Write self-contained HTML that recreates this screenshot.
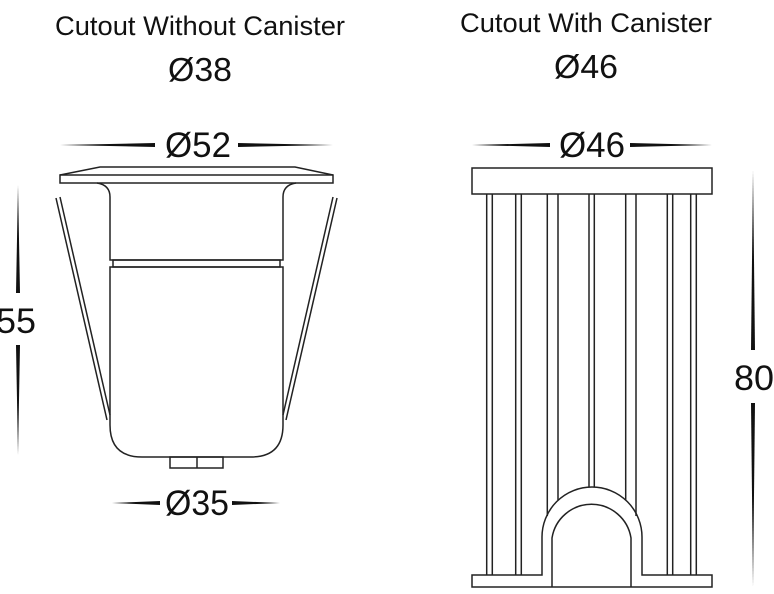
<!DOCTYPE html>
<html><head><style>
html,body{margin:0;padding:0;background:#fff;}
svg{display:block;}
text{font-family:"Liberation Sans",sans-serif;fill:#111;}
</style></head><body>
<svg width="774" height="594" viewBox="0 0 774 594" xmlns="http://www.w3.org/2000/svg">
<g>
<text x="200" y="35" font-size="27" text-anchor="middle" textLength="290" lengthAdjust="spacingAndGlyphs">Cutout Without Canister</text>
<text x="200" y="81" font-size="33" text-anchor="middle" textLength="64" lengthAdjust="spacingAndGlyphs">Ø38</text>
<text x="586" y="32" font-size="27" text-anchor="middle" textLength="252" lengthAdjust="spacingAndGlyphs">Cutout With Canister</text>
<text x="586" y="78" font-size="33" text-anchor="middle" textLength="64" lengthAdjust="spacingAndGlyphs">Ø46</text>

<text x="198" y="157" font-size="35" text-anchor="middle" textLength="66" lengthAdjust="spacingAndGlyphs">Ø52</text>
<text x="592" y="157" font-size="35" text-anchor="middle" textLength="66" lengthAdjust="spacingAndGlyphs">Ø46</text>
<text x="197" y="515" font-size="35" text-anchor="middle" textLength="64" lengthAdjust="spacingAndGlyphs">Ø35</text>
<text x="16" y="333" font-size="35" text-anchor="middle" textLength="40" lengthAdjust="spacingAndGlyphs">55</text>
<text x="754" y="390" font-size="35" text-anchor="middle" textLength="40" lengthAdjust="spacingAndGlyphs">80</text>
</g>

<g fill="#111">
<polygon points="60,145 155,143 155,147"/>
<polygon points="333,145 238,143 238,147"/>
<polygon points="472,145 550,143 550,147"/>
<polygon points="712,145 630,143 630,147"/>
<polygon points="112,503 160,501 160,505"/>
<polygon points="280,503 232,501 232,505"/>
<polygon points="18,185 16,293 20,293"/>
<polygon points="18,455 16,345 20,345"/>
<polygon points="753,170 751,350 755,350"/>
<polygon points="753,587 751,403 755,403"/>
</g>

<g fill="none" stroke="#222" stroke-width="1.5">
<path d="M60,175 L100,167 L295,167 L333,175"/>
<rect x="60" y="175" width="273" height="8"/>
<path d="M97,183 Q110,185 110,197 L110,260 L283,260 L283,197 Q283,185 296,183"/>
<rect x="113" y="260" width="167" height="7"/>
<path d="M110,267 L110,425 Q110,457 142,457 L251,457 Q283,457 283,425 L283,267 Z"/>
<rect x="170" y="457" width="53" height="11"/>
<line x1="197" y1="457" x2="197" y2="468"/>
<path d="M56,198 L107,420"/>
<path d="M60,197 L110,415"/>
<path d="M337,198 L286,420"/>
<path d="M333,197 L283,415"/>

<rect x="472" y="168" width="240" height="26"/>
<path d="M472,575 L542,575 L542,537 A50,50 0 0 1 642,537 L642,575 L712,575 L712,587 L472,587 Z"/>
<path d="M552,587 L552,538 A40,40 0 0 1 631,538 L631,587"/>
<line x1="486.7" y1="194" x2="486.7" y2="575"/>
<line x1="492.3" y1="194" x2="492.3" y2="575"/>
<line x1="515.7" y1="194" x2="515.7" y2="575"/>
<line x1="521.3" y1="194" x2="521.3" y2="575"/>
<line x1="547.3" y1="194" x2="547.3" y2="516"/>
<line x1="558" y1="194" x2="558" y2="500"/>
<line x1="589" y1="194" x2="589" y2="487"/>
<line x1="594.3" y1="194" x2="594.3" y2="487"/>
<line x1="625.7" y1="194" x2="625.7" y2="500"/>
<line x1="636" y1="194" x2="636" y2="516"/>
<line x1="667.3" y1="194" x2="667.3" y2="575"/>
<line x1="672.7" y1="194" x2="672.7" y2="575"/>
<line x1="690.7" y1="194" x2="690.7" y2="575"/>
<line x1="696.3" y1="194" x2="696.3" y2="575"/>
</g>
</svg>
</body></html>
